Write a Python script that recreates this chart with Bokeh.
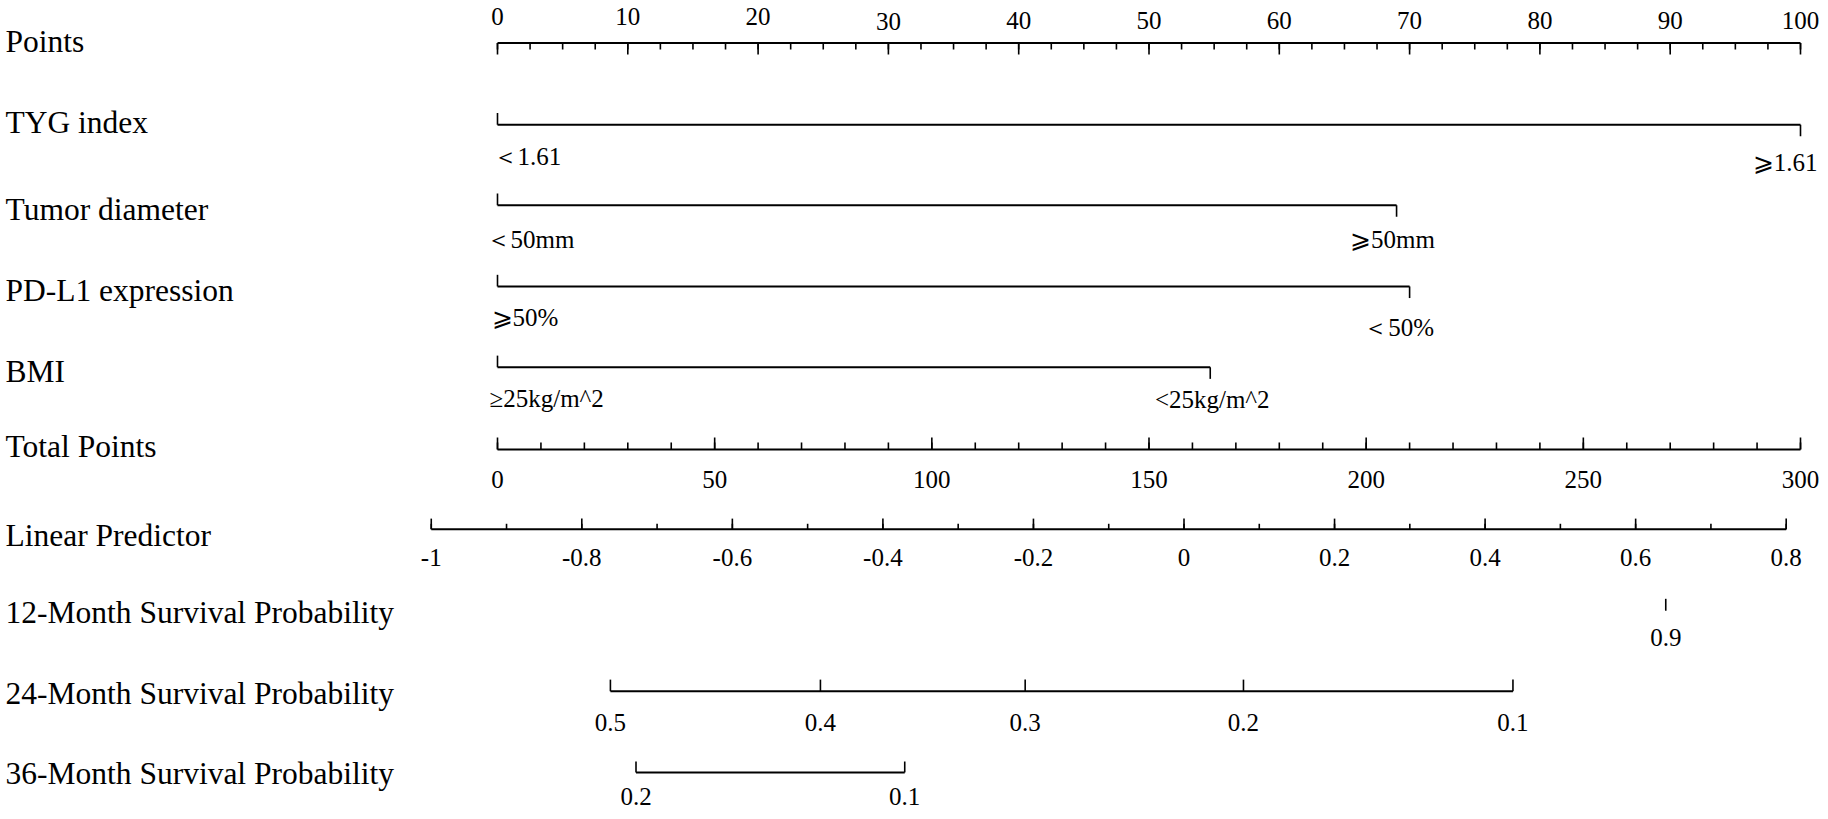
from bokeh.plotting import figure
from bokeh.models import Range1d, ColumnDataSource
from bokeh.core.properties import value
from bokeh.embed import file_html
from bokeh.resources import INLINE

# ---------------- data ----------------
points_labels = ["0", "10", "20", "30", "40", "50", "60", "70", "80", "90", "100"]
points_major = [0, 10, 20, 30, 40, 50, 60, 70, 80, 90, 100]
points_minor = [i * 2.5 for i in range(41)]

variables = ["TYG index", "Tumor diameter", "PD-L1 expression", "BMI"]
var_low_labels = ["＜1.61", "＜50mm", "⩾50%", "≥25kg/m^2"]
var_high_labels = ["⩾1.61", "⩾50mm", "＜50%", "<25kg/m^2"]
var_min_points = [0, 0, 0, 0]
var_max_points = [100, 69, 70, 54.7]

total_labels = ["0", "50", "100", "150", "200", "250", "300"]
total_major = [0, 50, 100, 150, 200, 250, 300]
total_minor = list(range(0, 301, 10))

lp_labels = ["-1", "-0.8", "-0.6", "-0.4", "-0.2", "0", "0.2", "0.4", "0.6", "0.8"]
lp_major = [-1, -0.8, -0.6, -0.4, -0.2, 0, 0.2, 0.4, 0.6, 0.8]
lp_minor = [round(-1 + 0.1 * i, 1) for i in range(19)]
lp_at_total0 = -0.912      # linear predictor at 0 total points
lp_at_total300 = 0.819     # linear predictor at 300 total points

surv12_labels = ["0.9"]
surv12_lp = [0.640]
surv24_labels = ["0.5", "0.4", "0.3", "0.2", "0.1"]
surv24_lp = [-0.762, -0.483, -0.211, 0.079, 0.437]
surv36_labels = ["0.2", "0.1"]
surv36_lp = [-0.728, -0.371]

row_titles = ["Points", "TYG index", "Tumor diameter", "PD-L1 expression", "BMI",
              "Total Points", "Linear Predictor", "12-Month Survival Probability",
              "24-Month Survival Probability", "36-Month Survival Probability"]

# ---------------- layout / style ----------------
FONT = "Liberation Serif"
W, H = 1820, 811
PX_P0, PX_P100 = 497.0, 1800.0
kx = (PX_P100 - PX_P0) / 100.0
x_start = (0 - PX_P0) / kx
x_end = x_start + W / kx
Y_TOP, Y_BOT = 0, 816

row_title_y = [41, 122.4, 209.8, 291.5, 373, 449, 538.6, 615.5, 697, 777.3]
points_y = 42.7
points_label_y = [16, 16, 16, 21, 20, 20, 20, 20, 20, 20, 20]
var_line_y = [125, 206, 287.7, 369]
var_low_y = [156.7, 240, 319, 400]
var_high_y = [163, 240, 329.3, 401.7]
var_low_xoff = [-5, -12, -6, -8]
var_high_align = ["right", "center", "center", "center"]
var_high_xoff = [17, -4, -11, 2]
total_y = 451.7
total_label_y = 481.7
lp_y = 532
lp_label_y = 560
s12_tick = (602, 614)
s12_label_y = 641
s24_y = 695
s24_label_y = 726
s36_y = 776.7
s36_label_y = 801

LW_AX = 2.0
LW_TK = 1.6
TITLE_SIZE = "31.5px"
TICK_SIZE = "25px"


def tp_to_x(tp):
    return tp * 100.0 / 300.0


def lp_to_x(lp):
    return (lp - lp_at_total0) / (lp_at_total300 - lp_at_total0) * 100.0


p = figure(width=W, height=H, x_range=Range1d(x_start, x_end),
           y_range=Range1d(Y_BOT, Y_TOP), output_backend="svg",
           toolbar_location=None, x_axis_location=None, y_axis_location=None,
           min_border=0, min_border_left=0, min_border_right=0,
           min_border_top=0, min_border_bottom=0)
p.grid.visible = False
p.outline_line_color = None
p.background_fill_color = "white"
p.border_fill_color = "white"


def segs(x0, y0, x1, y1, lw):
    src = ColumnDataSource(dict(x0=x0, y0=y0, x1=x1, y1=y1))
    p.segment(x0="x0", y0="y0", x1="x1", y1="y1", source=src,
              line_color="black", line_width=lw, line_cap="butt")


def texts(x, y, t, size, align="center", xoff=None):
    if xoff is None:
        xoff = [0] * len(t)
    if isinstance(align, str):
        align = [align] * len(t)
    src = ColumnDataSource(dict(x=x, y=y, t=t, a=align, xo=xoff))
    p.text(x="x", y="y", text="t", source=src, text_font=value(FONT),
           text_font_size=value(size), text_align="a", text_baseline="middle",
           x_offset="xo", text_color="black")


def hticks(xs, y, length, lw=LW_TK):
    segs(xs, [y] * len(xs), xs, [y + length] * len(xs), lw)


# Row titles
texts([x_start] * len(row_titles), row_title_y, row_titles, TITLE_SIZE, "left",
      [5] * len(row_titles))

# Points axis
segs([points_major[0]], [points_y], [points_major[-1]], [points_y], LW_AX)
hticks(points_minor, points_y, 6.7)
hticks(points_major, points_y, 11.7)
texts(points_major, points_label_y, points_labels, TICK_SIZE)

# Variables
for i in range(len(variables)):
    y = var_line_y[i]
    segs([var_min_points[i]], [y], [var_max_points[i]], [y], LW_AX)
    hticks([var_min_points[i]], y, -11.7)
    hticks([var_max_points[i]], y, 11.7)
    texts([var_min_points[i]], [var_low_y[i]], [var_low_labels[i]], TICK_SIZE,
          "left", [var_low_xoff[i]])
    texts([var_max_points[i]], [var_high_y[i]], [var_high_labels[i]], TICK_SIZE,
          [var_high_align[i]], [var_high_xoff[i]])

# Total points
tx_major = [tp_to_x(v) for v in total_major]
tx_minor = [tp_to_x(v) for v in total_minor]
segs([tx_major[0]], [total_y], [tx_major[-1]], [total_y], LW_AX)
hticks(tx_minor, total_y, -7)
hticks(tx_major, total_y, -12)
texts(tx_major, [total_label_y] * len(tx_major), total_labels, TICK_SIZE)

# Linear predictor
lx_major = [lp_to_x(v) for v in lp_major]
lx_minor = [lp_to_x(v) for v in lp_minor]
segs([lx_major[0]], [lp_y], [lx_major[-1]], [lp_y], LW_AX)
hticks(lx_minor, lp_y, -5.5)
hticks(lx_major, lp_y, -10.7)
texts(lx_major, [lp_label_y] * len(lx_major), lp_labels, TICK_SIZE)

# 12-month survival
s12x = [lp_to_x(v) for v in surv12_lp]
segs(s12x, [s12_tick[0]] * len(s12x), s12x, [s12_tick[1]] * len(s12x), LW_TK)
texts(s12x, [s12_label_y] * len(s12x), surv12_labels, TICK_SIZE)

# 24-month survival
s24x = [lp_to_x(v) for v in surv24_lp]
segs([min(s24x)], [s24_y], [max(s24x)], [s24_y], LW_AX)
hticks(s24x, s24_y, -11.7)
texts(s24x, [s24_label_y] * len(s24x), surv24_labels, TICK_SIZE)

# 36-month survival
s36x = [lp_to_x(v) for v in surv36_lp]
segs([min(s36x)], [s36_y], [max(s36x)], [s36_y], LW_AX)
hticks(s36x, s36_y, -11)
texts(s36x, [s36_label_y] * len(s36x), surv36_labels, TICK_SIZE)

open("out.html", "w").write(file_html(p, INLINE))
